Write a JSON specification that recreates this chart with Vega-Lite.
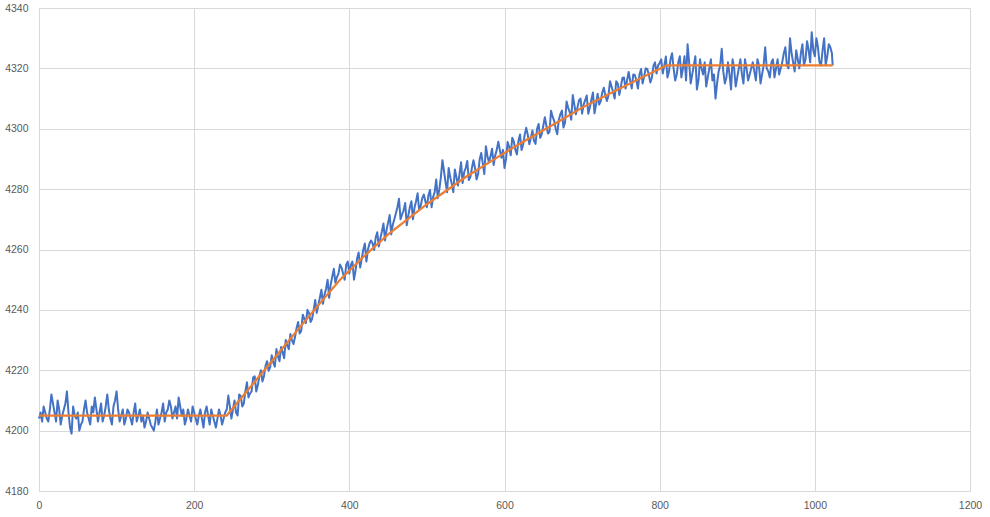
{
  "$schema": "https://vega.github.io/schema/vega-lite/v6.json",
  "width": 931,
  "height": 483,
  "autosize": {"type": "none"},
  "padding": {"left": 39, "top": 8, "right": 20, "bottom": 26},
  "background": "white",
  "config": {
    "view": {"stroke": null},
    "font": "Liberation Sans",
    "axis": {"labelColor": "#595959", "labelFontSize": 10.5, "gridColor": "#d9d9d9", "gridWidth": 1, "ticks": false, "title": null, "labelFont": "Liberation Sans", "labelFlush": false, "labelOverlap": false, "format": "d"}
  },
  "datasets": {
    "raw": [
      {"x":0,"y":4204},{"x":2,"y":4206},{"x":4,"y":4203},{"x":6,"y":4208},{"x":8,"y":4206},{"x":10,"y":4204},{"x":12,"y":4203},{"x":14,"y":4207},{"x":16,"y":4212},{"x":18,"y":4209},
      {"x":20,"y":4206},{"x":22,"y":4203},{"x":24,"y":4210},{"x":26,"y":4207},{"x":28,"y":4202},{"x":30,"y":4205},{"x":32,"y":4207},{"x":34,"y":4209},{"x":36,"y":4213},{"x":38,"y":4206},
      {"x":40,"y":4201},{"x":42,"y":4199},{"x":44,"y":4208},{"x":46,"y":4205},{"x":48,"y":4204},{"x":50,"y":4206},{"x":52,"y":4200},{"x":54,"y":4202},{"x":56,"y":4203},{"x":58,"y":4207},
      {"x":60,"y":4210},{"x":62,"y":4206},{"x":64,"y":4204},{"x":66,"y":4202},{"x":68,"y":4208},{"x":70,"y":4206},{"x":72,"y":4211},{"x":74,"y":4207},{"x":76,"y":4203},{"x":78,"y":4206},
      {"x":80,"y":4209},{"x":82,"y":4203},{"x":84,"y":4205},{"x":86,"y":4208},{"x":88,"y":4212},{"x":90,"y":4207},{"x":92,"y":4204},{"x":94,"y":4202},{"x":96,"y":4208},{"x":98,"y":4210},
      {"x":100,"y":4213},{"x":102,"y":4207},{"x":104,"y":4203},{"x":106,"y":4205},{"x":108,"y":4207},{"x":110,"y":4202},{"x":112,"y":4204},{"x":114,"y":4207},{"x":116,"y":4206},{"x":118,"y":4204},
      {"x":120,"y":4202},{"x":122,"y":4206},{"x":124,"y":4209},{"x":126,"y":4203},{"x":128,"y":4205},{"x":130,"y":4207},{"x":132,"y":4203},{"x":134,"y":4205},{"x":136,"y":4201},{"x":138,"y":4203},
      {"x":140,"y":4206},{"x":142,"y":4204},{"x":144,"y":4202},{"x":146,"y":4201},{"x":148,"y":4200},{"x":150,"y":4203},{"x":152,"y":4207},{"x":154,"y":4202},{"x":156,"y":4204},{"x":158,"y":4206},
      {"x":160,"y":4209},{"x":162,"y":4203},{"x":164,"y":4206},{"x":166,"y":4207},{"x":168,"y":4210},{"x":170,"y":4208},{"x":172,"y":4204},{"x":174,"y":4206},{"x":176,"y":4208},{"x":178,"y":4204},
      {"x":180,"y":4211},{"x":182,"y":4208},{"x":184,"y":4205},{"x":186,"y":4207},{"x":188,"y":4202},{"x":190,"y":4204},{"x":192,"y":4207},{"x":194,"y":4205},{"x":196,"y":4203},{"x":198,"y":4208},
      {"x":200,"y":4206},{"x":202,"y":4204},{"x":204,"y":4202},{"x":206,"y":4205},{"x":208,"y":4207},{"x":210,"y":4204},{"x":212,"y":4201},{"x":214,"y":4206},{"x":216,"y":4208},{"x":218,"y":4205},
      {"x":220,"y":4202},{"x":222,"y":4207},{"x":224,"y":4205},{"x":226,"y":4203},{"x":228,"y":4201},{"x":230,"y":4204},{"x":232,"y":4207},{"x":234,"y":4205},{"x":236,"y":4202},{"x":238,"y":4204},
      {"x":240,"y":4206},{"x":242,"y":4207},{"x":244,"y":4211.6},{"x":246,"y":4208},{"x":248,"y":4204},{"x":250,"y":4207},{"x":252,"y":4210},{"x":254,"y":4206},{"x":256,"y":4205},{"x":258,"y":4212},
      {"x":260,"y":4211.5},{"x":262,"y":4208},{"x":264,"y":4209},{"x":266,"y":4213},{"x":268,"y":4216},{"x":270,"y":4211},{"x":272,"y":4212.3},{"x":274,"y":4213},{"x":276,"y":4217.6},{"x":278,"y":4218},
      {"x":280,"y":4213},{"x":282,"y":4215},{"x":284,"y":4218},{"x":286,"y":4220},{"x":288,"y":4216.3},{"x":290,"y":4218},{"x":292,"y":4221.5},{"x":294,"y":4223},{"x":296,"y":4219.8},{"x":298,"y":4221},
      {"x":300,"y":4225},{"x":302,"y":4222.5},{"x":304,"y":4221.2},{"x":306,"y":4227},{"x":308,"y":4224.5},{"x":310,"y":4223},{"x":312,"y":4227.7},{"x":314,"y":4226},{"x":316,"y":4224},{"x":318,"y":4230},
      {"x":320,"y":4228.2},{"x":322,"y":4227},{"x":324,"y":4232},{"x":326,"y":4230},{"x":328,"y":4228.7},{"x":330,"y":4231},{"x":332,"y":4234},{"x":334,"y":4236},{"x":336,"y":4232.2},{"x":338,"y":4233},
      {"x":340,"y":4238.4},{"x":342,"y":4237},{"x":344,"y":4235.6},{"x":346,"y":4240},{"x":348,"y":4239},{"x":350,"y":4236},{"x":352,"y":4237},{"x":354,"y":4240},{"x":356,"y":4243.3},{"x":358,"y":4239},
      {"x":360,"y":4241.5},{"x":362,"y":4244},{"x":364,"y":4246.7},{"x":366,"y":4242},{"x":368,"y":4245},{"x":370,"y":4247},{"x":372,"y":4250},{"x":374,"y":4244},{"x":376,"y":4248.4},{"x":378,"y":4251},
      {"x":380,"y":4253.6},{"x":382,"y":4249},{"x":384,"y":4250.8},{"x":386,"y":4252},{"x":388,"y":4255},{"x":390,"y":4254},{"x":392,"y":4252},{"x":394,"y":4250},{"x":396,"y":4255},{"x":398,"y":4256},
      {"x":400,"y":4252},{"x":402,"y":4255},{"x":404,"y":4256},{"x":406,"y":4250},{"x":408,"y":4253},{"x":410,"y":4257},{"x":412,"y":4259},{"x":414,"y":4254},{"x":416,"y":4257},{"x":418,"y":4260},
      {"x":420,"y":4262},{"x":422,"y":4256},{"x":424,"y":4260},{"x":426,"y":4262},{"x":428,"y":4263},{"x":430,"y":4262},{"x":432,"y":4259.8},{"x":434,"y":4264},{"x":436,"y":4265.7},{"x":438,"y":4261},
      {"x":440,"y":4263.7},{"x":442,"y":4266},{"x":444,"y":4268.6},{"x":446,"y":4263},{"x":448,"y":4266.5},{"x":450,"y":4269},{"x":452,"y":4271.4},{"x":454,"y":4265},{"x":456,"y":4268.2},{"x":458,"y":4270},
      {"x":460,"y":4272},{"x":462,"y":4274},{"x":464,"y":4276.8},{"x":466,"y":4270},{"x":468,"y":4271.6},{"x":470,"y":4273},{"x":472,"y":4275.4},{"x":474,"y":4268},{"x":476,"y":4271.2},{"x":478,"y":4274},
      {"x":480,"y":4276},{"x":482,"y":4270},{"x":484,"y":4273.8},{"x":486,"y":4276},{"x":488,"y":4278.6},{"x":490,"y":4273},{"x":492,"y":4274.4},{"x":494,"y":4277},{"x":496,"y":4278.2},{"x":498,"y":4276},
      {"x":500,"y":4274},{"x":502,"y":4278},{"x":504,"y":4279.7},{"x":506,"y":4274},{"x":508,"y":4277.4},{"x":510,"y":4279},{"x":512,"y":4283.2},{"x":514,"y":4277},{"x":516,"y":4279.9},{"x":518,"y":4284},
      {"x":520,"y":4289.6},{"x":522,"y":4286},{"x":524,"y":4282.3},{"x":526,"y":4279},{"x":528,"y":4287},{"x":530,"y":4284},{"x":532,"y":4281.8},{"x":534,"y":4279},{"x":536,"y":4286.5},{"x":538,"y":4284},
      {"x":540,"y":4281.2},{"x":542,"y":4285},{"x":544,"y":4288.9},{"x":546,"y":4282},{"x":548,"y":4285.6},{"x":550,"y":4287},{"x":552,"y":4289.3},{"x":554,"y":4283},{"x":556,"y":4284},{"x":558,"y":4287},
      {"x":560,"y":4289.6},{"x":562,"y":4287},{"x":564,"y":4283.2},{"x":566,"y":4285},{"x":568,"y":4289.9},{"x":570,"y":4292},{"x":572,"y":4288.5},{"x":574,"y":4285},{"x":576,"y":4294.2},{"x":578,"y":4291},
      {"x":580,"y":4288.8},{"x":582,"y":4291},{"x":584,"y":4293.4},{"x":586,"y":4288},{"x":588,"y":4291.1},{"x":590,"y":4293},{"x":592,"y":4295.7},{"x":594,"y":4293},{"x":596,"y":4290.4},{"x":598,"y":4293},
      {"x":600,"y":4287},{"x":602,"y":4290},{"x":604,"y":4295.6},{"x":606,"y":4294},{"x":608,"y":4291.2},{"x":610,"y":4297},{"x":612,"y":4295.8},{"x":614,"y":4293},{"x":616,"y":4291.5},{"x":618,"y":4296},
      {"x":620,"y":4298.1},{"x":622,"y":4293},{"x":624,"y":4294.7},{"x":626,"y":4298},{"x":628,"y":4300.3},{"x":630,"y":4298},{"x":632,"y":4294.9},{"x":634,"y":4297},{"x":636,"y":4299.4},{"x":638,"y":4296},
      {"x":640,"y":4295},{"x":642,"y":4300},{"x":644,"y":4301.6},{"x":646,"y":4297},{"x":648,"y":4298.2},{"x":650,"y":4301},{"x":652,"y":4303.8},{"x":654,"y":4301},{"x":656,"y":4298.4},{"x":658,"y":4299},
      {"x":660,"y":4306},{"x":662,"y":4304},{"x":664,"y":4302.6},{"x":666,"y":4300},{"x":668,"y":4298.2},{"x":670,"y":4303},{"x":672,"y":4304.8},{"x":674,"y":4306},{"x":676,"y":4300.4},{"x":678,"y":4302},
      {"x":680,"y":4309},{"x":682,"y":4307},{"x":684,"y":4305.6},{"x":686,"y":4303},{"x":688,"y":4311.2},{"x":690,"y":4308},{"x":692,"y":4304.8},{"x":694,"y":4307},{"x":696,"y":4309.4},{"x":698,"y":4310},
      {"x":700,"y":4305},{"x":702,"y":4308},{"x":704,"y":4309.5},{"x":706,"y":4311},{"x":708,"y":4305},{"x":710,"y":4307},{"x":712,"y":4309.6},{"x":714,"y":4312},{"x":716,"y":4305.1},{"x":718,"y":4308},
      {"x":720,"y":4311.6},{"x":722,"y":4308},{"x":724,"y":4309.1},{"x":726,"y":4312},{"x":728,"y":4313.6},{"x":730,"y":4311},{"x":732,"y":4309.2},{"x":734,"y":4311},{"x":736,"y":4315.7},{"x":738,"y":4314},
      {"x":740,"y":4312.2},{"x":742,"y":4310},{"x":744,"y":4315.7},{"x":746,"y":4315},{"x":748,"y":4311.2},{"x":750,"y":4314},{"x":752,"y":4316.8},{"x":754,"y":4317},{"x":756,"y":4313.3},{"x":758,"y":4316},
      {"x":760,"y":4318.8},{"x":762,"y":4316},{"x":764,"y":4313.3},{"x":766,"y":4318},{"x":768,"y":4317.8},{"x":770,"y":4316},{"x":772,"y":4313.3},{"x":774,"y":4318},{"x":776,"y":4319.8},{"x":778,"y":4315},
      {"x":780,"y":4317.3},{"x":782,"y":4320},{"x":784,"y":4319.8},{"x":786,"y":4318},{"x":788,"y":4315.3},{"x":790,"y":4317},{"x":792,"y":4320.8},{"x":794,"y":4322},{"x":796,"y":4318.3},{"x":798,"y":4321},
      {"x":800,"y":4321.8},{"x":802,"y":4323},{"x":804,"y":4318.3},{"x":806,"y":4321},{"x":808,"y":4323.9},{"x":810,"y":4317},{"x":812,"y":4319},{"x":814,"y":4323},{"x":816,"y":4325},{"x":818,"y":4320},
      {"x":820,"y":4316},{"x":822,"y":4318},{"x":824,"y":4322},{"x":826,"y":4324},{"x":828,"y":4317},{"x":830,"y":4320},{"x":832,"y":4324},{"x":834,"y":4316},{"x":836,"y":4328},{"x":838,"y":4322},
      {"x":840,"y":4315},{"x":842,"y":4318},{"x":844,"y":4321},{"x":846,"y":4324},{"x":848,"y":4313},{"x":850,"y":4316},{"x":852,"y":4323},{"x":854,"y":4320},{"x":856,"y":4318},{"x":858,"y":4322},
      {"x":860,"y":4314},{"x":862,"y":4317},{"x":864,"y":4320},{"x":866,"y":4323},{"x":868,"y":4316},{"x":870,"y":4318},{"x":872,"y":4310},{"x":874,"y":4315},{"x":876,"y":4319},{"x":878,"y":4321},
      {"x":880,"y":4326.5},{"x":882,"y":4319},{"x":884,"y":4315},{"x":886,"y":4317},{"x":888,"y":4322},{"x":890,"y":4318},{"x":892,"y":4313},{"x":894,"y":4323},{"x":896,"y":4320},{"x":898,"y":4314},
      {"x":900,"y":4317},{"x":902,"y":4320},{"x":904,"y":4323},{"x":906,"y":4318},{"x":908,"y":4315},{"x":910,"y":4323},{"x":912,"y":4320},{"x":914,"y":4316},{"x":916,"y":4318},{"x":918,"y":4320},
      {"x":920,"y":4322},{"x":922,"y":4319},{"x":924,"y":4316},{"x":926,"y":4323},{"x":928,"y":4321},{"x":930,"y":4315},{"x":932,"y":4318},{"x":934,"y":4321},{"x":936,"y":4327},{"x":938,"y":4320},
      {"x":940,"y":4319},{"x":942,"y":4317},{"x":944,"y":4322},{"x":946,"y":4323},{"x":948,"y":4317},{"x":950,"y":4320},{"x":952,"y":4323},{"x":954,"y":4318},{"x":956,"y":4320},{"x":958,"y":4322},
      {"x":960,"y":4325},{"x":962,"y":4327},{"x":964,"y":4321},{"x":966,"y":4320},{"x":968,"y":4330},{"x":970,"y":4325},{"x":972,"y":4322},{"x":974,"y":4319},{"x":976,"y":4326},{"x":978,"y":4323},
      {"x":980,"y":4320},{"x":982,"y":4325},{"x":984,"y":4328},{"x":986,"y":4321},{"x":988,"y":4323},{"x":990,"y":4329},{"x":992,"y":4326},{"x":994,"y":4322},{"x":996,"y":4332},{"x":998,"y":4326},
      {"x":1000,"y":4324},{"x":1002,"y":4330},{"x":1004,"y":4327},{"x":1006,"y":4322},{"x":1008,"y":4321},{"x":1010,"y":4326},{"x":1012,"y":4330},{"x":1014,"y":4321},{"x":1016,"y":4324},{"x":1018,"y":4328},
      {"x":1020,"y":4327},{"x":1022,"y":4325},{"x":1023,"y":4321}
    ],
    "fit": [
      {"x":0,"y":4205},{"x":242,"y":4205},{"x":300,"y":4223},{"x":350,"y":4238.5},{"x":388,"y":4250},{"x":420,"y":4258},{"x":450,"y":4265},{"x":500,"y":4275},{"x":550,"y":4284},{"x":600,"y":4292},{"x":628,"y":4296.3},{"x":671,"y":4302.6},{"x":700,"y":4307},{"x":750,"y":4313.5},{"x":809,"y":4321},{"x":1023,"y":4321}
    ]
  },
  "layer": [
    {
      "data": {"name": "raw"},
      "mark": {"type": "line", "color": "#4472C4", "strokeWidth": 2, "strokeJoin": "round"},
      "encoding": {
        "x": {"field": "x", "type": "quantitative", "scale": {"domain": [0, 1200], "nice": false}, "axis": {"values": [0,200,400,600,800,1000,1200], "domainColor": "#d9d9d9", "labelPadding": 9}},
        "y": {"field": "y", "type": "quantitative", "scale": {"domain": [4180, 4340], "nice": false, "zero": false}, "axis": {"values": [4180,4200,4220,4240,4260,4280,4300,4320,4340], "domain": false, "labelPadding": 11}}
      }
    },
    {
      "data": {"name": "fit"},
      "mark": {"type": "line", "color": "#ED7D31", "strokeWidth": 2.25},
      "encoding": {
        "x": {"field": "x", "type": "quantitative"},
        "y": {"field": "y", "type": "quantitative"}
      }
    }
  ]
}
